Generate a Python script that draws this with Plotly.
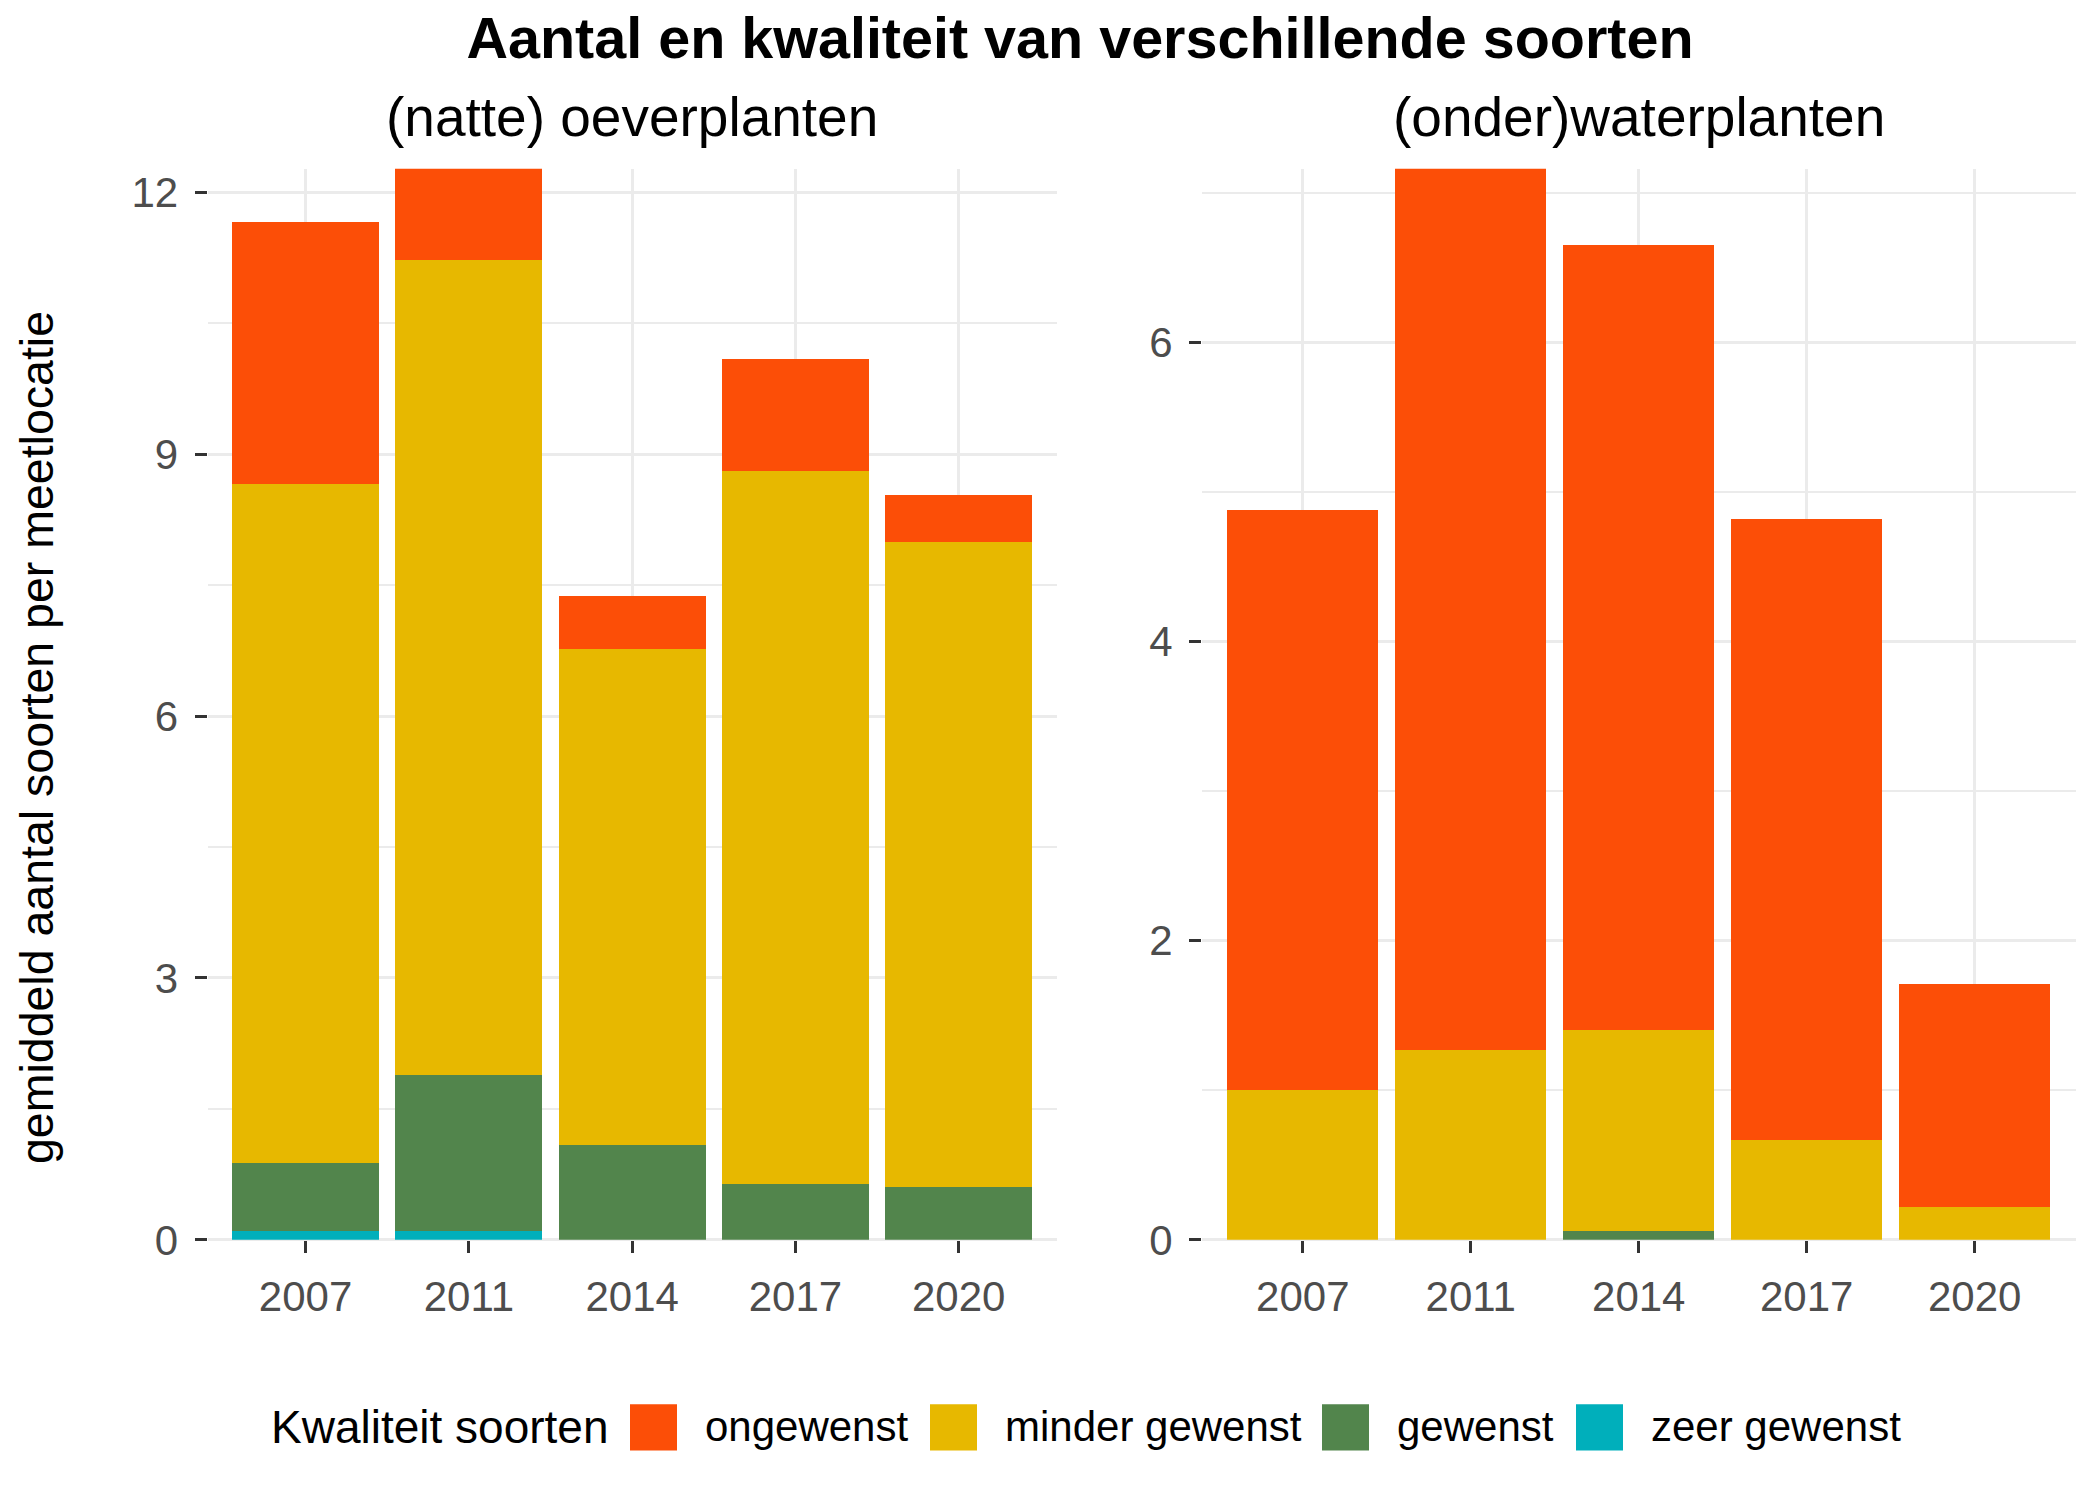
import plotly.graph_objects as go
from plotly.subplots import make_subplots

# ---------------- data ----------------
years = ["2007", "2011", "2014", "2017", "2020"]
qualities = ["ongewenst", "minder gewenst", "gewenst", "zeer gewenst"]
quality_colors = ["#FC4E07", "#E7B800", "#52854C", "#00AFBB"]
panel_titles = ["(natte) oeverplanten", "(onder)waterplanten"]

oever_ongewenst = [3.00, 1.10, 0.61, 1.28, 0.54]
oever_minder = [7.78, 9.33, 5.68, 8.17, 7.38]
oever_gewenst = [0.78, 1.79, 1.09, 0.64, 0.61]
oever_zeer = [0.10, 0.10, 0.00, 0.00, 0.00]

water_ongewenst = [3.88, 5.95, 5.25, 4.15, 1.49]
water_minder = [1.00, 1.27, 1.34, 0.67, 0.22]
water_gewenst = [0.00, 0.00, 0.06, 0.00, 0.00]
water_zeer = [0.00, 0.00, 0.00, 0.00, 0.00]

oever_ticks = [0, 3, 6, 9, 12]
water_ticks = [0, 2, 4, 6]

# ---------------- figure ----------------
W, H = 2100, 1500
FONT = "Liberation Sans, Arial, sans-serif"
GRID = "#EBEBEB"
TICKTXT = "#4D4D4D"

fig = make_subplots(rows=1, cols=2)

panels = [
    (1, [oever_zeer, oever_gewenst, oever_minder, oever_ongewenst]),
    (2, [water_zeer, water_gewenst, water_minder, water_ongewenst]),
]
for col, series in panels:
    # stack order bottom -> top: zeer gewenst, gewenst, minder gewenst, ongewenst
    for idx, vals in zip([3, 2, 1, 0], series):
        fig.add_trace(
            go.Bar(
                x=years,
                y=vals,
                name=qualities[idx],
                marker=dict(color=quality_colors[idx], line=dict(width=0)),
                width=0.9,
                showlegend=False,
            ),
            row=1,
            col=col,
        )

fig.update_layout(
    barmode="stack",
    width=W,
    height=H,
    autosize=False,
    margin=dict(l=0, r=0, t=0, b=0),
    plot_bgcolor="white",
    paper_bgcolor="white",
    font=dict(family=FONT, color="black"),
    title=dict(
        text="<b>Aantal en kwaliteit van verschillende soorten</b>",
        x=1080 / W,
        xanchor="center",
        y=1 - 38 / H,
        yanchor="middle",
        yref="container",
        xref="container",
        font=dict(family=FONT, size=57.5, color="black"),
    ),
)

ybot = 1 - 1260 / H
ytop = 1 - 171.4 / H

axis_common = dict(
    showline=False,
    ticks="outside",
    ticklen=12,
    tickwidth=3,
    tickcolor="#333333",
    tickfont=dict(family=FONT, size=42, color=TICKTXT),
    gridcolor=GRID,
    gridwidth=3,
)

fig.update_xaxes(
    type="category",
    range=[-0.6, 4.6],
    showgrid=True,
    zeroline=False,
    ticklabelstandoff=8,
    **axis_common,
)
fig.update_xaxes(domain=[207.6 / W, 1056.7 / W], row=1, col=1)
fig.update_xaxes(domain=[1202 / W, 2075.5 / W], row=1, col=2)

fig.update_yaxes(
    showgrid=True,
    zeroline=True,
    zerolinecolor=GRID,
    zerolinewidth=3,
    domain=[ybot, ytop],
    ticklabelstandoff=8,
    **axis_common,
)
fig.update_yaxes(
    range=[0, 12.27],
    tickvals=oever_ticks,
    minor=dict(showgrid=True, gridcolor=GRID, gridwidth=1.5, dtick=1.5, tick0=1.5, ticks=""),
    row=1,
    col=1,
)
fig.update_yaxes(
    range=[0, 7.16],
    tickvals=water_ticks,
    minor=dict(showgrid=True, gridcolor=GRID, gridwidth=1.5, dtick=1, tick0=1, ticks=""),
    row=1,
    col=2,
)

annotations = []
# panel (facet) titles
for t, cx in zip(panel_titles, [632 / W, 1638.8 / W]):
    annotations.append(
        dict(
            text=t, x=cx, y=1 - 119 / H, xref="paper", yref="paper",
            xanchor="center", yanchor="middle", showarrow=False,
            font=dict(family=FONT, size=55, color="black"),
        )
    )
# y-axis title
annotations.append(
    dict(
        text="gemiddeld aantal soorten per meetlocatie",
        x=37 / W, y=1 - 750 / H, xref="paper", yref="paper",
        xanchor="center", yanchor="middle", textangle=-90, showarrow=False,
        font=dict(family=FONT, size=46.5, color="black"),
    )
)

# ---------------- legend (drawn manually, ggplot-like large keys) ----------------
leg_y = 1 - 1450 / H
annotations.append(
    dict(
        text="Kwaliteit soorten", x=269 / W, y=leg_y, xref="paper", yref="paper",
        xanchor="left", yanchor="middle", showarrow=False,
        font=dict(family=FONT, size=46, color="black"),
    )
)
key_left = [630, 930, 1322, 1576]
key_size = 47
shapes = []
for q, c, kx in zip(qualities, quality_colors, key_left):
    shapes.append(
        dict(
            type="rect", xref="paper", yref="paper",
            x0=kx / W, x1=(kx + key_size) / W,
            y0=1 - 1474 / H, y1=1 - 1427 / H,
            fillcolor=c, line=dict(width=0),
        )
    )
    annotations.append(
        dict(
            text=q, x=(kx + key_size + 26) / W, y=leg_y, xref="paper", yref="paper",
            xanchor="left", yanchor="middle", showarrow=False,
            font=dict(family=FONT, size=42, color="black"),
        )
    )

fig.update_layout(annotations=annotations, shapes=shapes)

post = (
    "document.documentElement.style.margin='0';"
    "document.documentElement.style.padding='0';"
    "document.documentElement.style.overflow='hidden';"
    "document.documentElement.style.height='1500px';"
    "document.body.style.margin='0';"
    "document.body.style.padding='0';"
    "document.body.style.overflow='hidden';"
    "document.body.style.height='1500px';"
)
fig.write_html("out.html", post_script=post, config={"displayModeBar": False})
